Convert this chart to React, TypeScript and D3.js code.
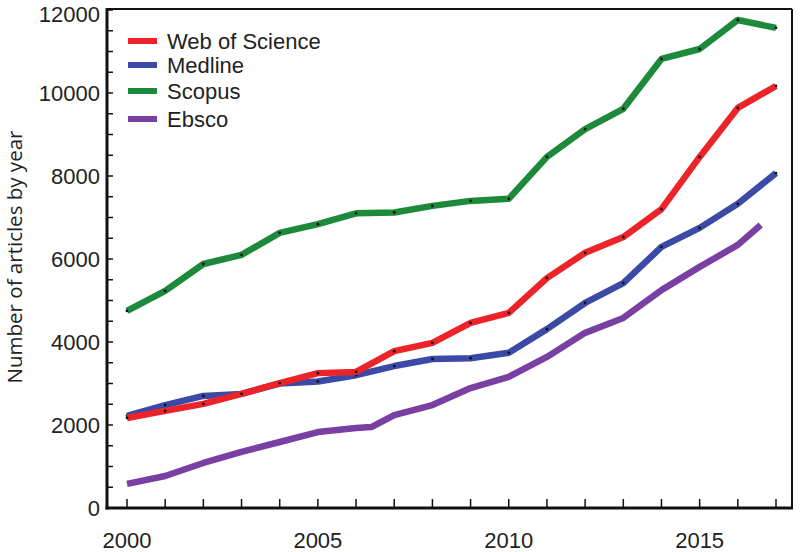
import React from "react";
import * as d3 from "d3";

const years = [2000, 2001, 2002, 2003, 2004, 2005, 2006, 2007, 2008, 2009, 2010, 2011, 2012, 2013, 2014, 2015, 2016, 2017];
const webOfScience = [2170, 2340, 2510, 2750, 3010, 3250, 3280, 3780, 3980, 4460, 4700, 5540, 6150, 6530, 7200, 8460, 9640, 10170];
const medline = [2220, 2480, 2700, 2750, 3000, 3050, 3200, 3420, 3590, 3610, 3740, 4310, 4940, 5420, 6290, 6750, 7330, 8070];
const scopus = [4750, 5230, 5880, 6100, 6630, 6840, 7100, 7120, 7280, 7400, 7450, 8460, 9130, 9620, 10820, 11060, 11760, 11570];
const ebscoYears = [2000, 2001, 2002, 2003, 2004, 2005, 2006, 2006.4, 2007, 2008, 2009, 2010, 2011, 2012, 2013, 2014, 2015, 2016, 2016.6];
const ebsco = [580, 770, 1085, 1350, 1590, 1830, 1930, 1950, 2240, 2480, 2890, 3160, 3640, 4220, 4580, 5250, 5810, 6340, 6820];
const yTickLabels = [0, 2000, 4000, 6000, 8000, 10000, 12000];
const xTickLabels = [2000, 2005, 2010, 2015];

const seriesNames = ["Web of Science", "Medline", "Scopus", "Ebsco"];
const colors = ["#ec2429", "#3b4aa6", "#1d8a3b", "#7a3fa2"];

export default function App() {
  const W = 800, H = 552;
  const left = 107, right = 792, top = 10, bottom = 508;
  const x = d3.scaleLinear().domain([2000, 2017]).range([127, 776]);
  const y = d3.scaleLinear().domain([0, 12000]).range([bottom, top]);

  const series = [
    { name: seriesNames[0], xs: years, ys: webOfScience, color: colors[0] },
    { name: seriesNames[1], xs: years, ys: medline, color: colors[1] },
    { name: seriesNames[2], xs: years, ys: scopus, color: colors[2] },
    { name: seriesNames[3], xs: ebscoYears, ys: ebsco, color: colors[3] },
  ];
  const line = d3.line<[number, number]>().x(d => x(d[0])).y(d => y(d[1]));
  const minorY = d3.range(0, 12001, 500);
  const font = "'Liberation Sans', Arial, Helvetica, sans-serif";
  const drawOrder = [3, 1, 0, 2];

  return (
    <svg width={W} height={H} style={{ position: "absolute", left: 0, top: 0, background: "#fff" }}>
      <rect x={0} y={0} width={W} height={H} fill="#fff" />
      {drawOrder.map(i => {
        const s = series[i];
        const pts = s.xs.map((v, k) => [v, s.ys[k]] as [number, number]);
        return (
          <g key={s.name}>
            <path d={line(pts) || ""} fill="none" stroke={s.color} strokeWidth={6.5} strokeLinejoin="round" strokeLinecap="butt" />
            {i !== 3 && pts.map((p, k) => (
              <circle key={k} cx={x(p[0])} cy={y(p[1])} r={1.4} fill="#111" />
            ))}
          </g>
        );
      })}
      {/* frame */}
      <line x1={left} y1={top - 1} x2={right} y2={top - 1} stroke="#111" strokeWidth={2} />
      <line x1={right} y1={top - 1} x2={right} y2={bottom} stroke="#111" strokeWidth={2} />
      <line x1={left} y1={top - 2} x2={left} y2={bottom + 1.5} stroke="#111" strokeWidth={3} />
      <line x1={left - 1.5} y1={bottom} x2={right + 1} y2={bottom} stroke="#111" strokeWidth={3} />
      {/* y ticks */}
      {minorY.map(v => (
        <line key={v} x1={left} x2={left + 6} y1={y(v)} y2={y(v)} stroke="#111" strokeWidth={1.5} />
      ))}
      {yTickLabels.map(v => (
        <text key={v} x={100} y={Math.max(y(v), 14)} dy="0.36em" textAnchor="end" fontFamily={font} fontSize={22} fill="#222">{v}</text>
      ))}
      {/* x ticks */}
      {years.map(v => (
        <line key={v} x1={x(v)} x2={x(v)} y1={bottom} y2={bottom - 9} stroke="#111" strokeWidth={1.5} />
      ))}
      {xTickLabels.map(v => (
        <text key={v} x={x(v)} y={548} textAnchor="middle" fontFamily={font} fontSize={22} fill="#222">{v}</text>
      ))}
      {/* y title */}
      <text transform={`translate(22,${257}) rotate(-90)`} textAnchor="middle" fontFamily="'Open Sans', sans-serif" fontSize={20.5} fill="#222">Number of articles by year</text>
      {/* legend */}
      {series.map((s, i) => {
        const ly = [41, 65, 91, 119][i];
        return (
          <g key={s.name}>
            <line x1={128} x2={157} y1={ly} y2={ly} stroke={s.color} strokeWidth={6} />
            <text x={167} y={ly} dy="0.36em" fontFamily={font} fontSize={22} fill="#222">{s.name}</text>
          </g>
        );
      })}
    </svg>
  );
}
